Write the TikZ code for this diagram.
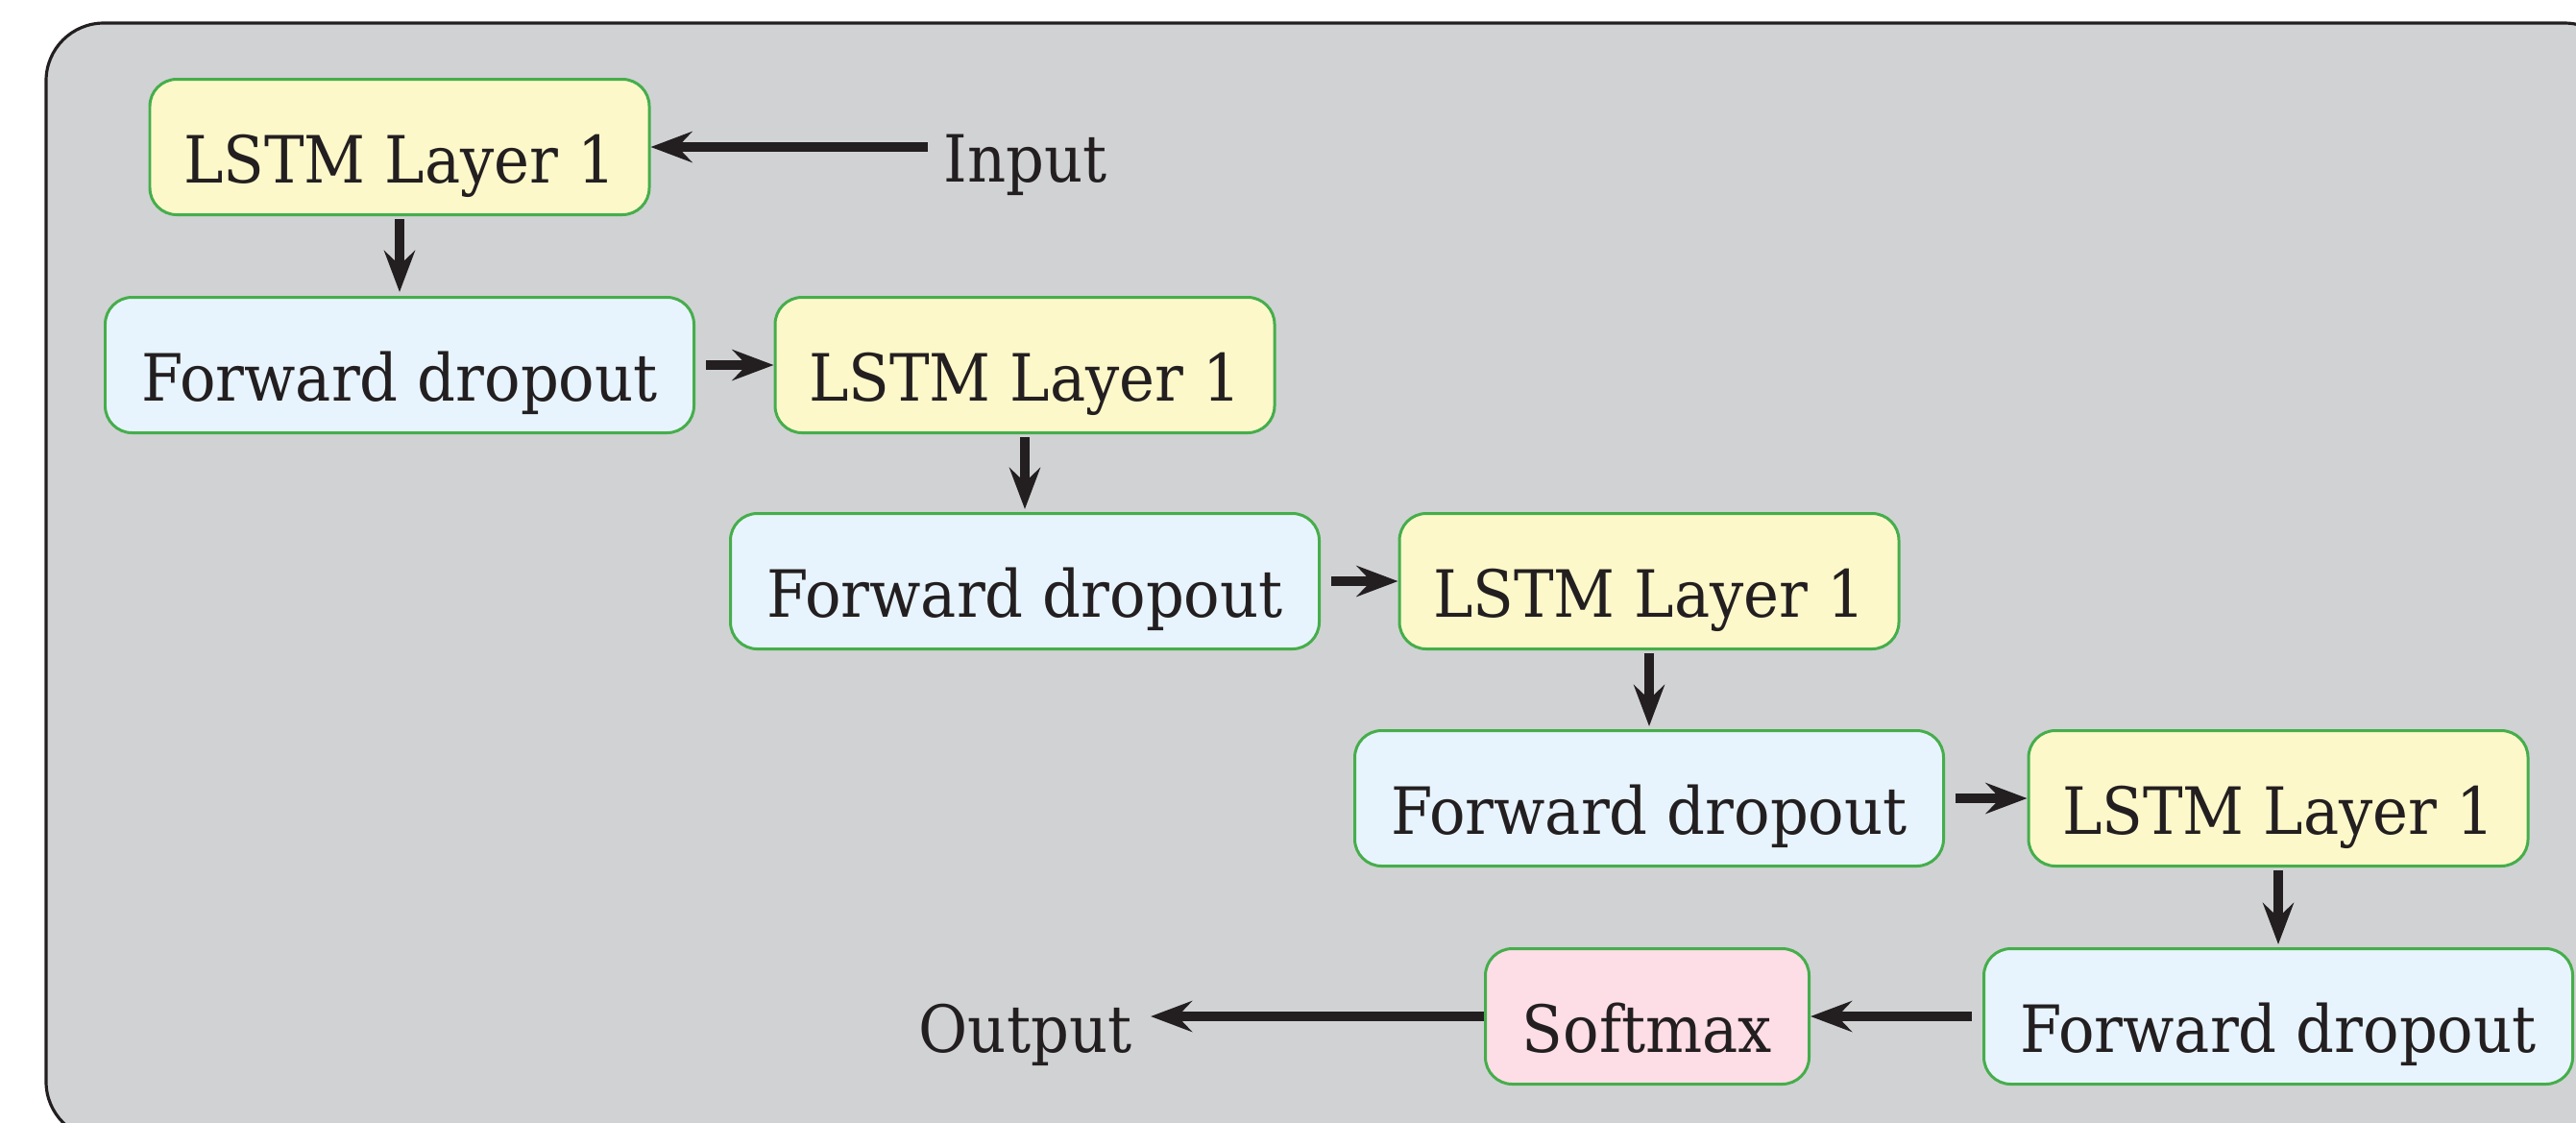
\documentclass[tikz,border=0pt]{standalone}
\usepackage{fontspec}
\setmainfont{DejaVu Serif}[FakeStretch=0.92]
\usetikzlibrary{arrows.meta}

\definecolor{panelgray}{HTML}{D1D2D4}
\definecolor{inkdark}{HTML}{231F20}
\definecolor{boxgreen}{HTML}{45AE4B}
\definecolor{lstmfill}{HTML}{FDF8CA}
\definecolor{dropfill}{HTML}{E8F4FD}
\definecolor{softfill}{HTML}{FDDDE6}

\tikzset{
  basebox/.style={draw=boxgreen, line width=0.85pt, rounded corners=0.28cm,
    minimum height=1.41cm, inner sep=0pt, text height=0.75cm, text depth=0pt,
    text=inkdark},
  lstmbox/.style={basebox, fill=lstmfill, minimum width=5.20cm},
  dropbox/.style={basebox, fill=dropfill, minimum width=6.13cm},
  softbox/.style={basebox, fill=softfill, minimum width=3.37cm},
  plainlabel/.style={inner ysep=0pt, text=inkdark},
  arr/.style={draw=inkdark, line width=2.7pt,
    -{Stealth[length=4.3mm, width=3.2mm, inset=1.5mm]}},
  frame/.style={draw=inkdark, fill=panelgray, line width=0.9pt, rounded corners=0.6cm}
}

\begin{document}
\begin{tikzpicture}[font=\fontsize{19.3pt}{23pt}\selectfont]
  \useasboundingbox (0,0) rectangle (26.82,-11.68);

  % grey panel behind the network
  \draw[frame] (0.48,-0.24) rectangle (27.3,-11.86);

  % stacked LSTM / dropout blocks
  \node[lstmbox] (l1) at (4.16,-1.53) {LSTM Layer 1};
  \node[dropbox] (d1) at (4.16,-3.80) {Forward dropout};
  \node[lstmbox] (l2) at (10.67,-3.80) {LSTM Layer 1};
  \node[dropbox] (d2) at (10.67,-6.05) {Forward dropout};
  \node[lstmbox] (l3) at (17.17,-6.05) {LSTM Layer 1};
  \node[dropbox] (d3) at (17.17,-8.31) {Forward dropout};
  \node[lstmbox] (l4) at (23.72,-8.31) {LSTM Layer 1};
  \node[dropbox] (d4) at (23.72,-10.58) {Forward dropout};
  \node[softbox] (sm) at (17.15,-10.58) {Softmax};

  % input and output labels
  \node[plainlabel, inner xsep=0.16cm, anchor=base west] (inp) at (9.66,-1.89) {Input};
  \node[plainlabel, inner xsep=0.19cm, anchor=base east] (outp) at (11.98,-10.95) {Output};

  % connectors
  \draw[arr] (inp.west |- l1.east) -- (l1.east);
  \draw[arr, shorten <=0.03cm, shorten >=0.04cm] (l1.south) -- (d1.north);
  \draw[arr, shorten <=0.11cm] (d1.east) -- (l2.west);
  \draw[arr, shorten <=0.03cm, shorten >=0.03cm] (l2.south) -- (d2.north);
  \draw[arr, shorten <=0.11cm] (d2.east) -- (l3.west);
  \draw[arr, shorten <=0.03cm, shorten >=0.03cm] (l3.south) -- (d3.north);
  \draw[arr, shorten <=0.11cm] (d3.east) -- (l4.west);
  \draw[arr, shorten <=0.03cm, shorten >=0.03cm] (l4.south) -- (d4.north);
  \draw[arr, shorten <=0.11cm] (d4.west) -- (sm.east);
  \draw[arr] (sm.west) -- (outp.east |- sm.west);
\end{tikzpicture}
\end{document}
